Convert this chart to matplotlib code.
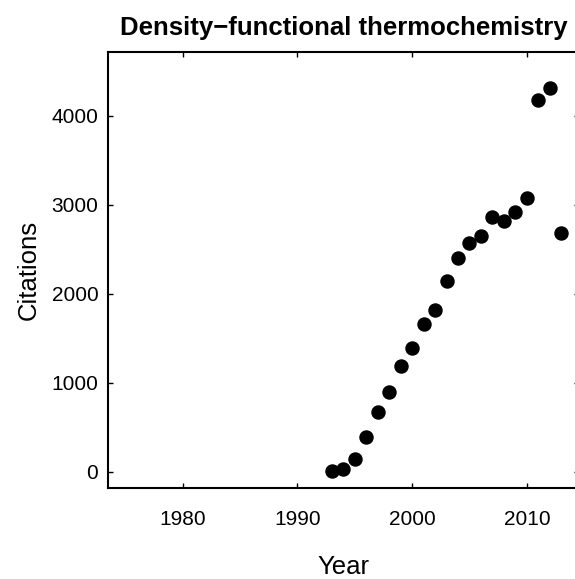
import numpy as np
import matplotlib
matplotlib.use("Agg")
import matplotlib.pyplot as plt

plt.rcParams['font.family'] = ['Liberation Sans', 'DejaVu Sans']

# yearly citation counts
years = [1993, 1994, 1995, 1996, 1997, 1998, 1999, 2000, 2001, 2002, 2003,
         2004, 2005, 2006, 2007, 2008, 2009, 2010, 2011, 2012, 2013]
citations = [5, 35, 145, 388, 668, 892, 1190, 1395, 1660, 1822, 2143,
             2400, 2566, 2650, 2865, 2822, 2921, 3080, 4178, 4308, 2680]

x_ticks = [1980, 1990, 2000, 2010]
y_ticks = [0, 1000, 2000, 3000, 4000]

fig = plt.figure(figsize=(5.75, 5.79), dpi=100)
ax = fig.add_axes([0.1878, 0.1572, 0.8186, 0.7525])

ax.plot(years, citations, 'o', color='black', markersize=9.4, clip_on=False)

ax.set_xlim(1973.48, 2014.52)
ax.set_ylim(-183, 4712)
ax.set_xticks(x_ticks)
ax.set_yticks(y_ticks)

for side in ax.spines.values():
    side.set_linewidth(1.5)

ax.tick_params(direction='in', length=3.6, width=1.0, labelsize=15,
               top=True, right=True)
ax.tick_params(axis='x', pad=15.5)
ax.tick_params(axis='y', pad=7)

ax.set_title("Density\u2212functional thermochemistry", fontsize=18.5,
             fontweight='bold', pad=12.5)
ax.set_xlabel("Year", fontsize=18.5, va='center')
ax.xaxis.set_label_coords(0.5, -0.182)
ax.set_ylabel("Citations", fontsize=18.5, va='center')
ax.yaxis.set_label_coords(-0.168, 0.5)

fig.savefig("out.png", dpi=100)
